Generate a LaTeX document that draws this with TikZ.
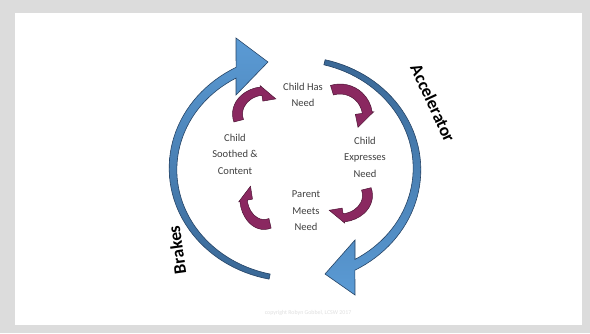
\documentclass[tikz,border=0pt]{standalone}
\usepackage{fontspec}
\setmainfont{Carlito}
\usetikzlibrary{arrows.meta}
\definecolor{frame}{RGB}{220,220,220}
\definecolor{sky}{RGB}{91,155,213}
\definecolor{steel}{RGB}{58,104,150}
\definecolor{navy}{RGB}{36,66,100}
\definecolor{plum}{RGB}{138,40,96}
\definecolor{wine}{RGB}{74,18,50}
\definecolor{ink}{RGB}{64,64,64}
\tikzset{
  big loop/.style 2 args={top color=#1,bottom color=#2,draw=navy,line width=0.5pt},
  stage/.style={font=\fontsize{9}{14}\selectfont,text=ink,align=center,inner sep=0pt},
  drive/.style={font=\fontsize{15}{18}\selectfont\bfseries,text=black,inner sep=0pt},
  % quarter turn arrow, tail at the top, head pointing down
  pics/turn/.style={code={
    \filldraw[fill=plum,draw=wine,line width=0.4pt]
      (107:32.5) arc[start angle=107,end angle=8,radius=32.5] -- (8:34) -- (-31:21)
      -- (8:15.5) -- (8:22.5) arc[start angle=8,end angle=107,radius=22.5] -- cycle;
  }},
}

\begin{document}
\begin{tikzpicture}[x=0.3mm,y=0.3mm]
  % slide
  \fill[frame] (0,0) rectangle (590,333);
  \fill[white] (15,8) rectangle (582,319.5);

  % brakes: left loop, head at the top
  \shade[big loop={sky}{steel}]
    plot[domain=258:117.7,samples=50]
      ({295+(124.6+2.2*(258-\x)/139)*cos(\x)},{164+(112.6+2.2*(258-\x)/139)*sin(\x)})
    -- (236,295) -- (268,271) -- (236,238)
    -- plot[domain=120.2:258,samples=50]
      ({295+(119.4-2.2*(258-\x)/139)*cos(\x)},{164+(107.4-2.2*(258-\x)/139)*sin(\x)})
    -- cycle;

  % accelerator: right loop, head at the bottom
  \shade[big loop={steel}{sky}]
    plot[domain=76:-61.8,samples=50]
      ({295+(124.6+2.2*(76-\x)/136.5)*cos(\x)},{164+(112.6+2.2*(76-\x)/136.5)*sin(\x)})
    -- (355,38) -- (325,59) -- (355,93)
    -- plot[domain=-59.2:76,samples=50]
      ({295+(119.4-2.2*(76-\x)/136.5)*cos(\x)},{164+(107.4-2.2*(76-\x)/136.5)*sin(\x)})
    -- cycle;

  % the inner cycle
  \pic[rotate=90,xscale=0.84] at (265,219) {turn};
  \pic at (340,216.5) {turn};
  \pic[rotate=-90,xscale=0.82] at (340,137.5) {turn};
  \pic[rotate=180,xscale=0.75] at (264,136) {turn};

  \node[stage] (has) at (303,238) {Child Has\\Need};
  \node[stage] (expresses) at (365,176) {Child\\Expresses\\Need};
  \node[stage] (meets) at (306,122) {Parent\\Meets\\Need};
  \node[stage] (soothed) at (235,179) {Child\\Soothed \&\\Content};

  \node[drive,rotate=-65] (accel) at (433,230) {Accelerator};
  \node[drive,rotate=98] (brakes) at (177,83) {Brakes};

  \node[font=\fontsize{5}{6}\selectfont,text=black!12] (credit) at (308,20)
    {copyright Robyn Gobbel, LCSW 2017};
\end{tikzpicture}
\end{document}
